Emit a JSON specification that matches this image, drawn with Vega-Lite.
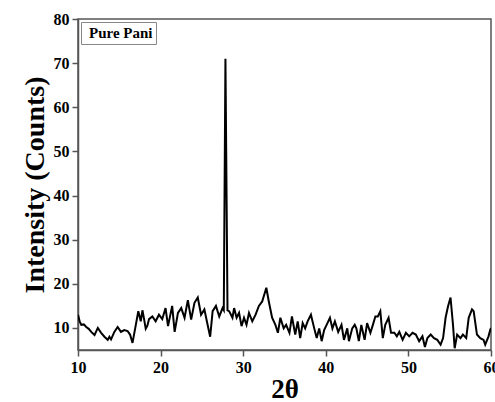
{
  "$schema": "https://vega.github.io/schema/vega-lite/v6.json",
  "autosize": "none",
  "padding": {"left": 78, "top": 19, "right": 4, "bottom": 52},
  "width": 413,
  "height": 331,
  "background": "white",
  "config": {
    "font": "Liberation Serif",
    "view": {"stroke": "#555", "strokeWidth": 1.5}
  },
  "data": {"values": [
    {"t":10.0,"c":13},{"t":10.2,"c":11.5},{"t":10.4,"c":10.7},{"t":10.7,"c":10.8},{"t":11.0,"c":10.2},{"t":11.3,"c":9.8},{"t":11.6,"c":9.1},{"t":12.0,"c":8.4},{"t":12.4,"c":10},{"t":12.8,"c":8.9},{"t":13.2,"c":8.0},{"t":13.6,"c":7.3},{"t":13.8,"c":8.0},{"t":14.0,"c":7.4},{"t":14.4,"c":9.1},{"t":14.8,"c":10.2},{"t":15.2,"c":9.1},{"t":15.6,"c":9.5},{"t":16.0,"c":9.3},{"t":16.3,"c":8.5},{"t":16.6,"c":6.6},{"t":17.0,"c":10.7},{"t":17.3,"c":13.8},{"t":17.6,"c":11.5},{"t":17.8,"c":14},{"t":18.0,"c":12},{"t":18.2,"c":9.8},{"t":18.4,"c":10.5},{"t":18.6,"c":12},{"t":19.0,"c":12.6},{"t":19.4,"c":11.5},{"t":19.8,"c":13},{"t":20.2,"c":12},{"t":20.6,"c":14.5},{"t":20.9,"c":10.4},{"t":21.4,"c":15},{"t":21.7,"c":9.1},{"t":22.1,"c":13.4},{"t":22.5,"c":14.5},{"t":22.9,"c":12.3},{"t":23.3,"c":16.3},{"t":23.7,"c":11.9},{"t":24.1,"c":15.7},{"t":24.5,"c":16.9},{"t":24.9,"c":13},{"t":25.3,"c":14.2},{"t":25.6,"c":11.5},{"t":26.0,"c":8},{"t":26.3,"c":13.8},{"t":26.7,"c":15},{"t":27.1,"c":12.6},{"t":27.5,"c":14.5},{"t":27.65,"c":14},{"t":27.85,"c":71},{"t":28.1,"c":14},{"t":28.3,"c":13.8},{"t":28.7,"c":12.3},{"t":28.9,"c":14.5},{"t":29.2,"c":12.3},{"t":29.5,"c":13.4},{"t":29.8,"c":10.4},{"t":30.1,"c":12.3},{"t":30.4,"c":10.7},{"t":30.7,"c":13.4},{"t":31.1,"c":11.5},{"t":31.5,"c":13},{"t":31.9,"c":15},{"t":32.3,"c":16},{"t":32.8,"c":19.1},{"t":33.1,"c":16},{"t":33.5,"c":12.3},{"t":33.9,"c":10.7},{"t":34.2,"c":8.9},{"t":34.5,"c":12.3},{"t":34.9,"c":9.9},{"t":35.2,"c":10.7},{"t":35.6,"c":8.9},{"t":35.9,"c":12.6},{"t":36.3,"c":8.5},{"t":36.6,"c":11.5},{"t":36.9,"c":7.7},{"t":37.2,"c":11.1},{"t":37.5,"c":9.9},{"t":37.8,"c":11.5},{"t":38.2,"c":13},{"t":38.6,"c":9.9},{"t":38.9,"c":7.7},{"t":39.2,"c":9.9},{"t":39.5,"c":7.0},{"t":39.8,"c":9.5},{"t":40.2,"c":11.1},{"t":40.5,"c":12.3},{"t":40.8,"c":9.9},{"t":41.1,"c":11.5},{"t":41.5,"c":9.1},{"t":41.9,"c":10.7},{"t":42.2,"c":7.3},{"t":42.6,"c":9.9},{"t":42.8,"c":7},{"t":43.2,"c":9.9},{"t":43.5,"c":10.7},{"t":43.7,"c":9.9},{"t":44.0,"c":7},{"t":44.3,"c":10.7},{"t":44.7,"c":7.3},{"t":45.0,"c":11.1},{"t":45.4,"c":8.9},{"t":45.7,"c":10.7},{"t":46.0,"c":12.6},{"t":46.3,"c":12.6},{"t":46.6,"c":13.8},{"t":46.9,"c":7.7},{"t":47.2,"c":10.7},{"t":47.6,"c":12.3},{"t":47.9,"c":8.9},{"t":48.3,"c":8.9},{"t":48.6,"c":8.1},{"t":48.9,"c":9.1},{"t":49.3,"c":7.3},{"t":49.7,"c":8.9},{"t":50.1,"c":8.1},{"t":50.5,"c":8.9},{"t":50.9,"c":8.5},{"t":51.3,"c":7},{"t":51.7,"c":8.1},{"t":52.0,"c":5.7},{"t":52.3,"c":7.7},{"t":52.7,"c":8.5},{"t":53.1,"c":7.7},{"t":53.5,"c":7.3},{"t":53.9,"c":6.2},{"t":54.2,"c":7.7},{"t":54.5,"c":12.3},{"t":54.8,"c":14.9},{"t":55.1,"c":16.9},{"t":55.4,"c":10.7},{"t":55.6,"c":5.4},{"t":55.9,"c":8.5},{"t":56.3,"c":7.7},{"t":56.6,"c":8.5},{"t":57.0,"c":7.7},{"t":57.3,"c":12.3},{"t":57.7,"c":14.2},{"t":57.9,"c":13.8},{"t":58.3,"c":8.5},{"t":58.7,"c":7.7},{"t":59.1,"c":7.3},{"t":59.3,"c":6.2},{"t":59.7,"c":8.1},{"t":59.9,"c":9.5},{"t":60.0,"c":10}
  ]},
  "mark": {"type": "line", "strokeWidth": 2, "clip": true},
  "encoding": {
    "x": {"field": "t", "type": "quantitative",
      "scale": {"domain": [10, 60], "nice": false, "zero": false},
      "axis": {"title": "2θ", "values": [10, 20, 30, 40, 50, 60], "grid": false,
        "domainColor": "#555", "domainWidth": 1.5, "tickColor": "#555", "tickWidth": 1.5, "tickSize": 6,
        "labelFont": "Liberation Serif", "labelFontSize": 16, "labelFontWeight": "bold", "labelColor": "black", "labelPadding": 3, "labelFlush": false,
        "titleFont": "Liberation Serif", "titleFontSize": 27, "titleFontWeight": "bold", "titleColor": "black", "titlePadding": 1}},
    "y": {"field": "c", "type": "quantitative",
      "scale": {"domain": [5, 80], "nice": false, "zero": false},
      "axis": {"title": "Intensity (Counts)", "values": [10, 20, 30, 40, 50, 60, 70, 80], "grid": false,
        "domainColor": "#555", "domainWidth": 1.5, "tickColor": "#555", "tickWidth": 1.5, "tickSize": 6,
        "labelFont": "Liberation Serif", "labelFontSize": 16, "labelFontWeight": "bold", "labelColor": "black", "labelPadding": 3,
        "titleFont": "Liberation Serif", "titleFontSize": 28, "titleFontWeight": "bold", "titleColor": "black", "titlePadding": 4}},
    "color": {"datum": "Pure Pani", "type": "nominal",
      "scale": {"range": ["black"]},
      "legend": {"title": null, "orient": "top-left", "offset": 3, "padding": 3,
        "strokeColor": "#888", "fillColor": "white",
        "symbolSize": 0, "symbolStrokeWidth": 0, "symbolOpacity": 0, "labelOffset": -10,
        "labelFont": "Liberation Serif", "labelFontSize": 15, "labelFontWeight": "bold", "labelColor": "black"}}
  }
}
